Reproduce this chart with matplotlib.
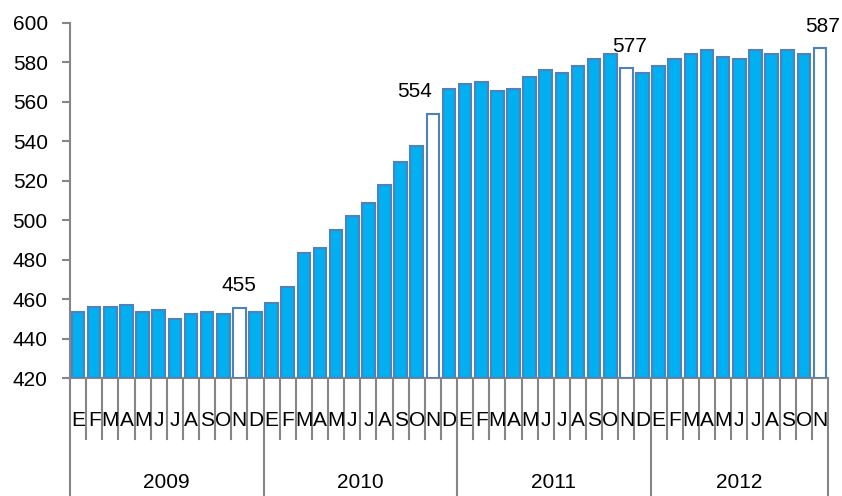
import matplotlib
matplotlib.use("Agg")
import matplotlib.pyplot as plt
import matplotlib.transforms as mtransforms
import numpy as np

years = ["2009", "2010", "2011", "2012"]
months_per_year = [12, 12, 12, 11]
month_letters = ["E", "F", "M", "A", "M", "J", "J", "A", "S", "O", "N", "D"]

values = [
    453.6, 455.8, 455.8, 457.0, 453.6, 454.6, 450.1, 452.4, 453.6, 452.4, 455.6, 453.6,
    458.2, 466.1, 483.5, 485.8, 495.0, 502.0, 508.9, 518.0, 529.5, 537.6, 553.9, 566.4,
    568.9, 570.3, 565.5, 566.7, 572.5, 576.0, 574.8, 578.2, 581.8, 584.1, 577.0, 574.8,
    578.2, 581.8, 584.1, 586.3, 582.9, 581.8, 586.3, 584.1, 586.3, 584.1, 587.2,
]
highlight_labels = {10: "455", 22: "554", 34: "577", 46: "587"}
label_xoffsets = {10: 0, 22: -13, 34: 2, 46: 2}

yticks = [420, 440, 460, 480, 500, 520, 540, 560, 580, 600]

FILL = "#00B0F0"
EDGE = "#4F81BD"
AXIS = "#868686"

plt.rcParams['font.family'] = ['Liberation Sans', 'DejaVu Sans']

fig = plt.figure(figsize=(8.42, 4.96), dpi=100)
ax = fig.add_axes([70/842, 1-378/496, (828-70)/842, (378-23)/496])

n = len(values)
x = np.arange(n)
colors = [("white" if i in highlight_labels else FILL) for i in range(n)]
ax.bar(x, np.array(values) - 420, bottom=420, width=0.78, color=colors,
       edgecolor=EDGE, linewidth=1.5, zorder=3)

ax.set_xlim(-0.5, n - 0.5)
ax.set_ylim(420, 600)
ax.set_yticks(yticks)
ax.set_yticklabels([str(t) for t in yticks], fontsize=15)
ax.tick_params(axis='y', length=6, color=AXIS, width=1.5, pad=10)
ax.set_xticks([])
for s in ["top", "right"]:
    ax.spines[s].set_visible(False)
for s in ["left", "bottom"]:
    ax.spines[s].set_color(AXIS)
    ax.spines[s].set_linewidth(1.5)

for i, lab in highlight_labels.items():
    ax.annotate(lab, (x[i], values[i]), xytext=(label_xoffsets[i], 9),
                textcoords="offset points", ha="center", va="bottom", fontsize=15)

trans = mtransforms.blended_transform_factory(ax.transData, ax.transAxes)
month_bottom = -61/355
year_bottom = -118/355

idx = 0
boundaries = [0]
for y, m in zip(years, months_per_year):
    idx += m
    boundaries.append(idx)
for k in range(n + 1):
    is_year = k in boundaries
    ax.plot([k - 0.5, k - 0.5], [0, year_bottom if is_year else month_bottom],
            transform=trans, color=AXIS, lw=1.5, clip_on=False, zorder=1)

i = 0
for y, m in zip(years, months_per_year):
    for j in range(m):
        ax.text(i + j, -42/355, month_letters[j], transform=trans, ha="center",
                va="center", fontsize=15)
    ax.text(i + (m - 1)/2, -104/355, y, transform=trans, ha="center", va="center",
            fontsize=15)
    i += m

fig.savefig("out.png", dpi=100)
